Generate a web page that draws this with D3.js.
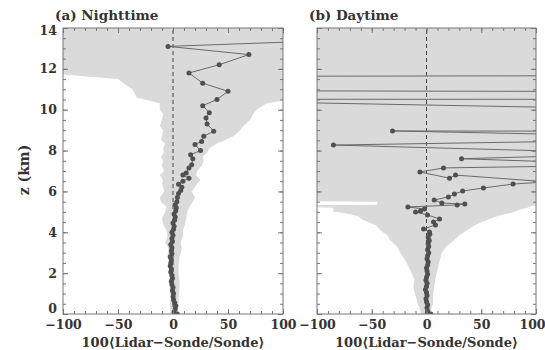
<!DOCTYPE html>
<html>
<head>
<meta charset="utf-8">
<script src="https://cdn.jsdelivr.net/npm/d3@7"></script>
<style>
  body { margin: 0; background: #fff; }
  svg text { font-family: "DejaVu Serif", serif; font-weight: bold; fill: #333; }
</style>
</head>
<body>
<svg id="chart" width="545" height="350"></svg>
<script>
// nighttime profile (z in km, 100*(lidar-sonde)/sonde)
const nightZ = [0, 0.1, 0.25, 0.4, 0.55, 0.7, 0.85, 1.0, 1.15, 1.3, 1.45, 1.6, 1.75, 1.9, 2.05, 2.2, 2.35, 2.5, 2.65, 2.8,
  2.95, 3.1, 3.25, 3.4, 3.55, 3.7, 3.85, 4.0, 4.15, 4.3, 4.45, 4.6, 4.75, 4.9, 5.05, 5.2, 5.35, 5.5,
  5.7, 5.9, 6.05, 6.2, 6.35, 6.5, 6.65, 6.8, 6.9, 7.15, 7.3, 7.6, 7.8, 8.0, 8.3, 8.45, 8.7, 8.95, 9.3, 9.6, 9.85,
  10.2, 10.5, 10.9, 11.3, 11.8, 12.2, 12.7, 13.1, 13.4];
const nightDiff = [4, 1, 2, 2.5, 1.5, 0.5, 0, 0.5, -0.5, 0, -1, -1.5, -0.5, -1, -2, -1.5, -2.5, -2, -1.5, -2.5,
  -1, -1.5, -1, -2, -0.5, -1, 0, -1, 0.5, 1, 0, 1.5, 2, 1, 2.5, 3, 2, 3.5,
  4, 5, 7, 8, 5, 9, 14.5, 9, 12, 14.5, 17, 18, 16, 25, 20, 26, 28, 37, 31, 30, 33,
  27, 40, 50, 27, 14.5, 42, 69, -4.5, 150];

// nighttime spread envelope
const nightEnvZ = [0, 0.4, 0.8, 1.2, 1.6, 2.0, 2.4, 2.8, 3.2, 3.5, 3.8, 4.1, 4.4, 4.7, 5.0, 5.25, 5.5, 5.7, 6.0, 6.2,
  6.4, 6.55, 6.8, 7.0, 7.25, 7.5, 7.7, 7.9, 8.1, 8.35, 8.5, 8.7, 9.0, 9.2, 9.5, 9.8, 10.0, 10.3, 10.45, 10.6,
  10.8, 11.0, 11.3, 11.5, 11.7, 11.75, 14];
const nightLo = [-2, -3, -2, -3, -3, -4, -3, -5, -4, -7, -5, -6, -9, -10, -7, -6, -11, -12, -8, -9,
  -10, -9, -12, -8, -10, -9, -11, -8, -9, -7, -11, -10, -9, -12, -10, -9, -12, -12, -22, -33,
  -35, -37, -45, -50, -95, -100, -100];
const nightHi = [4, 5, 5, 6, 6, 5, 5, 6, 8, 7, 9, 9, 11, 12, 13, 15, 18, 20, 17, 20,
  22, 25, 21, 22, 26, 28, 27, 31, 33, 40, 47, 55, 61, 64, 70, 73, 76, 85, 100, 100,
  100, 100, 100, 100, 100, 100, 100];

// daytime profile
const dayZ = [0, 0.05, 0.15, 0.3, 0.45, 0.6, 0.75, 0.9, 1.05, 1.2, 1.35, 1.5, 1.65, 1.8, 1.95, 2.1, 2.25, 2.4, 2.55, 2.7,
  2.85, 3.0, 3.15, 3.3, 3.45, 3.6, 3.75, 3.9, 4.01, 4.16, 4.36, 4.5, 4.65, 4.85, 4.99, 5.04, 5.14, 5.24, 5.34, 5.38,
  5.43, 5.58, 5.73, 5.87, 6.02, 6.17, 6.36, 6.47, 6.8, 6.65, 6.95, 7.15, 7.3, 7.6, 7.85, 8.27, 8.6, 8.96,
  8.6, 9.73, 10.73, 10.5, 10.52, 11.3, 12.0];
const dayDiff = [4, 1, 1, 0.5, 1, 0, -0.5, 0.5, 0, -1, 0, 0.5, -0.5, 0, 1, 0.5, 0, 1, 1.5, 0.5,
  1, 2, 1, 2, 1.5, 2.5, 1.5, 3, 2.7, -2.7, 8.2, 6.4, 11.9, 0.9, -10, -5.5, -1.8, -17, 28, 35,
  14, 7, 20, 25.5, 33, 52, 79, 110, 26.5, 21, -6, 15.5, 200, 32, 200, -85, 300, -31,
  6000, 500, -500, -4000, 4000, -4000, 4000];

// daytime spread envelope
const dayEnvZ = [0, 0.25, 0.5, 0.9, 1.3, 1.7, 2.15, 2.6, 3.0, 3.3, 3.6, 3.85, 4.1, 4.35, 4.6, 4.8, 4.95, 5.0,
  5.1, 5.2, 5.22, 5.33, 5.35, 5.5, 5.52, 14];
const dayLo = [-5, -6, -8, -10, -12, -11, -15, -19, -24, -27, -33, -36, -42, -46, -58, -63, -75, -85,
  -85, -85, -100, -100, -45, -45, -100, -100];
const dayHi = [5, 4, 6, 6, 7, 8, 10, 12, 14, 18, 25, 30, 37, 44, 55, 65, 76, 80,
  85, 92, 93, 100, 100, 100, 100, 100];

const xTickLabels = [-100, -50, 0, 50, 100];
const zTickLabels = [0, 2, 4, 6, 8, 10, 12, 14];

const svg = d3.select('#chart');
const plotTop = 28;
const plotBottom = 314;
const y = d3.scaleLinear().domain([0, 14]).range([plotBottom, plotTop]);
const fmt = (d) => String(d).replace('-', '\u2212');

function drawPanel(id, left, right, zs, diffs, envZ, envLo, envHi, title, showZ) {
  const x = d3.scaleLinear().domain([-100, 100]).range([left, right]);
  const g = svg.append('g');

  g.append('clipPath').attr('id', 'clip-' + id)
    .append('rect')
    .attr('x', left).attr('y', plotTop)
    .attr('width', right - left).attr('height', plotBottom - plotTop);

  const plot = g.append('g').attr('clip-path', `url(#clip-${id})`);

  // spread envelope
  const env = envZ.map((z, i) => ({ z: z, lo: envLo[i], hi: envHi[i] }));
  const area = d3.area()
    .y((d) => y(d.z))
    .x0((d) => x(d.lo))
    .x1((d) => x(d.hi));
  plot.append('path')
    .datum(env)
    .attr('d', area)
    .attr('fill', '#dadada');

  // zero line
  plot.append('line')
    .attr('x1', x(0)).attr('x2', x(0))
    .attr('y1', y(0)).attr('y2', y(14))
    .attr('stroke', '#444')
    .attr('stroke-width', 1)
    .attr('stroke-dasharray', '4,3');

  const pts = zs.map((z, i) => ({ z: z, v: diffs[i] }));
  const line = d3.line()
    .x((d) => x(d.v))
    .y((d) => y(d.z));
  plot.append('path')
    .datum(pts)
    .attr('d', line)
    .attr('fill', 'none')
    .attr('stroke', '#6a6a6a')
    .attr('stroke-width', 1);

  plot.selectAll('circle')
    .data(pts)
    .enter()
    .append('circle')
    .attr('cx', (d) => x(d.v))
    .attr('cy', (d) => y(d.z))
    .attr('r', 2.5)
    .attr('fill', '#505050');

  // axes: ticks point inward
  const axes = g.append('g').attr('class', 'axes');
  const addAxis = (axis, tx, ty) => {
    const a = axes.append('g').attr('transform', `translate(${tx},${ty})`).call(axis);
    a.select('.domain').remove();
    a.selectAll('line').attr('stroke', '#777');
    return a;
  };

  addAxis(d3.axisBottom(x).tickValues(d3.range(-100, 101, 10)).tickSize(-3).tickFormat(''), 0, plotBottom);
  addAxis(d3.axisTop(x).tickValues(d3.range(-100, 101, 10)).tickSize(-3).tickFormat(''), 0, plotTop);
  const xb = addAxis(d3.axisBottom(x).tickValues(xTickLabels).tickSize(-5).tickPadding(6).tickFormat(fmt), 0, plotBottom);
  xb.selectAll('text')
    .attr('font-size', 12.5)
    .attr('fill', '#333')
    .attr('dx', (d) => (d === 100 && !showZ ? -4 : 0));
  addAxis(d3.axisTop(x).tickValues(xTickLabels).tickSize(-5).tickFormat(''), 0, plotTop);

  addAxis(d3.axisLeft(y).tickValues(d3.range(0, 14.01, 0.5)).tickSize(-3).tickFormat(''), left, 0);
  addAxis(d3.axisRight(y).tickValues(d3.range(0, 14.01, 0.5)).tickSize(-3).tickFormat(''), right, 0);
  addAxis(d3.axisRight(y).tickValues(zTickLabels).tickSize(-5).tickFormat(''), right, 0);
  const yl = addAxis(d3.axisLeft(y).tickValues(zTickLabels).tickSize(-5).tickPadding(6)
    .tickFormat(showZ ? fmt : ''), left, 0);
  yl.selectAll('text')
    .attr('font-size', 12.5)
    .attr('fill', '#333')
    .attr('dy', (d) => (d === 0 ? '-0.1em' : d === 14 ? '0.55em' : '0.32em'));

  g.append('rect')
    .attr('x', left).attr('y', plotTop)
    .attr('width', right - left).attr('height', plotBottom - plotTop)
    .attr('fill', 'none')
    .attr('stroke', '#777')
    .attr('stroke-width', 1);

  g.append('text')
    .text(title)
    .attr('x', left - 8)
    .attr('y', 20)
    .attr('font-size', 13.5);

  g.append('text')
    .text('100\u27e8Lidar\u2212Sonde/Sonde\u27e9')
    .attr('x', (left + right) / 2)
    .attr('y', 347)
    .attr('text-anchor', 'middle')
    .attr('font-size', 13);
}

drawPanel('a', 63, 283, nightZ, nightDiff, nightEnvZ, nightLo, nightHi, '(a) Nighttime', true);
drawPanel('b', 317, 536, dayZ, dayDiff, dayEnvZ, dayLo, dayHi, '(b) Daytime', false);

svg.append('text')
  .text('z (km)')
  .attr('transform', 'translate(29,170) rotate(-90)')
  .attr('text-anchor', 'middle')
  .attr('font-size', 14);
</script>
</body>
</html>
